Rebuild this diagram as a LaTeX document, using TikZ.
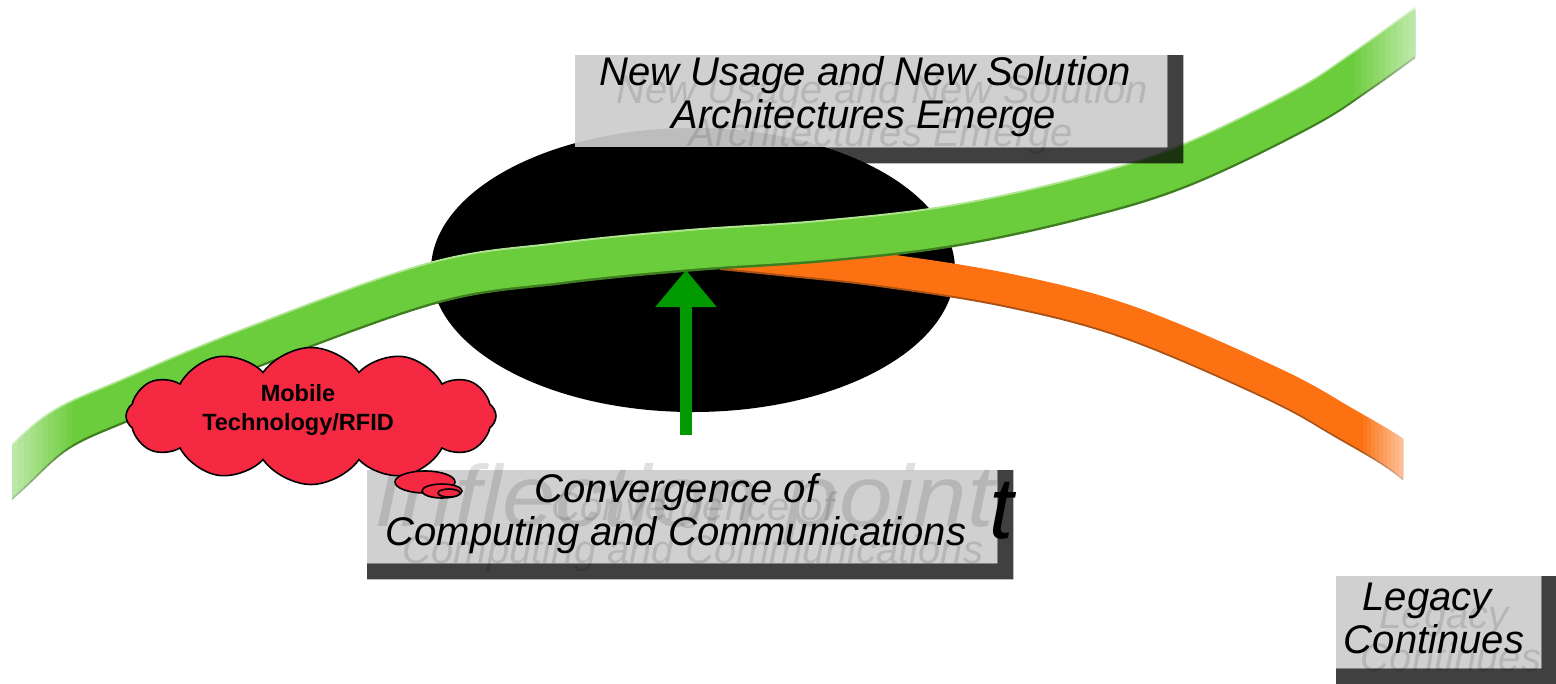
\documentclass[tikz,border=0pt]{standalone}
\usepackage{fontspec}
\setmainfont{Liberation Sans}
\usetikzlibrary{arrows.meta,shapes.symbols}
\definecolor{bandgreen}{RGB}{108,205,60}
\definecolor{bandgreendark}{RGB}{62,125,32}
\definecolor{bandgreenlight}{RGB}{175,228,145}
\definecolor{bandorange}{RGB}{252,113,18}
\definecolor{bandorangedark}{RGB}{170,82,22}
\definecolor{arrowgreen}{RGB}{0,153,0}
\definecolor{cloudred}{RGB}{245,42,66}
\definecolor{boxgray}{RGB}{204,204,204}
\newcommand\drawboxshadow[1]{\fill[shadowfill] (#1.north east) -- ([xshift=16pt]#1.north east) -- ([xshift=16pt,yshift=-16pt]#1.south east) -- ([yshift=-16pt]#1.south west) -- (#1.south west) -- (#1.south east) -- cycle;}
\begin{document}
\begin{tikzpicture}[x=1pt,y=-1pt,
  boxtext/.style={font=\fontsize{40}{44}\selectfont\itshape, anchor=base, inner sep=0pt},
  ghosttext/.style={boxtext, text=black, text opacity=0.12},
  lightbox/.style={fill=boxgray, fill opacity=0.93, draw=none, inner sep=0pt, anchor=north west},
  shadowfill/.style={fill=black, fill opacity=0.75},
  greenband/.style={line width=38pt, draw=bandgreen},
  greenedge/.style={line width=38pt, draw=bandgreendark},
  greenhilite/.style={line width=38pt, draw=bandgreenlight},
  orangeband/.style={line width=32pt, draw=bandorange},
  orangeedge/.style={line width=32pt, draw=bandorangedark},
  bigarrow/.style={line width=12pt, draw=arrowgreen, -{Triangle[width=59pt,length=37pt]}},
  bubble/.style={fill=cloudred, draw=black, line width=1.6pt},
  watermark/.style={font=\fontsize{87}{87}\selectfont\itshape, anchor=base west, inner sep=0pt}
]
\useasboundingbox (0,0) rectangle (1556,683);

% black ellipse
\fill[black] (693,270) ellipse [x radius=262, y radius=142];

% orange band (legacy)
\begin{scope}
  \clip (720,0) rectangle (1403,683);
  \draw[orangeedge, shift={(0,2)}] plot[smooth, tension=0.6] coordinates {(700,250) (780,258) (880,269) (1010,290) (1130,322) (1273,383) (1344,422) (1403,458) (1450,500)};
  \draw[orangeband] plot[smooth, tension=0.6] coordinates {(700,250) (780,258) (880,269) (1010,290) (1130,322) (1273,383) (1344,422) (1403,458) (1450,500)};
\end{scope}
\foreach \i [evaluate=\i as \op using 0.55*\i/10] in {1,...,10}
  \fill[white, opacity=\op] ({1399-(10-\i)*4},390) rectangle ({1403-(10-\i)*4},500);

% green band (new)
\begin{scope}
  \clip (12,0) rectangle (1415,683);
  \draw[greenhilite, shift={(0,-2)}] plot[smooth, tension=0.6] coordinates {(-15,497) (12,472) (60,430) (130,398) (250,348) (432,283) (560,263) (690,250) (820,241) (950,226) (1080,198) (1183,166) (1300,110) (1360,72) (1440,14)};
  \draw[greenedge, shift={(0,2.5)}] plot[smooth, tension=0.6] coordinates {(-15,497) (12,472) (60,430) (130,398) (250,348) (432,283) (560,263) (690,250) (820,241) (950,226) (1080,198) (1183,166) (1300,110) (1360,72) (1440,14)};
  \draw[greenband] plot[smooth, tension=0.6] coordinates {(-15,497) (12,472) (60,430) (130,398) (250,348) (432,283) (560,263) (690,250) (820,241) (950,226) (1080,198) (1183,166) (1300,110) (1360,72) (1440,14)};
\end{scope}
\foreach \i [evaluate=\i as \op using 0.55*(10-\i)/10] in {0,...,9}
  \fill[white, opacity=\op] ({12+\i*6},380) rectangle ({18+\i*6},530);
\foreach \i [evaluate=\i as \op using 0.55*\i/10] in {1,...,10}
  \fill[white, opacity=\op] ({1409-(10-\i)*6},0) rectangle ({1415-(10-\i)*6},140);

% arrow
\coordinate (arrowfoot) at (686,435);
\coordinate (arrowtip) at (686,270);
\draw[bigarrow] (arrowfoot) -- (arrowtip);

% boxes
\node[lightbox, minimum width=592pt, minimum height=92pt] (topbox) at (575,55) {};
\drawboxshadow{topbox}
\node[lightbox, minimum width=630pt, minimum height=93pt] (convbox) at (367,470) {};
\drawboxshadow{convbox}
\node[lightbox, minimum width=205pt, minimum height=92pt] (legacybox) at (1336,576) {};
\drawboxshadow{legacybox}

% watermark
\node[watermark, text=black, text opacity=0.12] (inflection) at (374,526) {\scalebox{1.105}[1]{Inflection point}};
\node[watermark, text=black] (tmark) at (989,538) {t};

% ghost texts
\node[ghosttext] (topAg) at (882,103) {New Usage and New Solution};
\node[ghosttext] (topBg) at (881,146) {Architectures Emerge};
\node[ghosttext] (convAg) at (693,520) {Convergence of};
\node[ghosttext] (convBg) at (693,563) {Computing and Communications};
\node[ghosttext] (legAg) at (1444,628) {Legacy};
\node[ghosttext] (legBg) at (1451,671) {Continues};

% main texts
\node[boxtext] (topA) at (865,85) {New Usage and New Solution};
\node[boxtext] (topB) at (864,128) {Architectures Emerge};
\node[boxtext] (convA) at (676,502) {Convergence of};
\node[boxtext] (convB) at (676,545) {Computing and Communications};
\node[boxtext] (legA) at (1427,610) {Legacy};
\node[boxtext] (legB) at (1434,653) {Continues};

% cloud
\node[cloud, cloud puffs=12, cloud puff arc=110, cloud ignores aspect, minimum width=370pt, minimum height=137pt, bubble, inner sep=0pt] (cloud) at (311,416) {};
\node[font=\fontsize{23.5}{29}\selectfont\bfseries, align=center] (cloudtext) at (298,410) {Mobile\\Technology/RFID};
\filldraw[bubble] (425,482) ellipse [x radius=30, y radius=11];
\filldraw[bubble] (442,491) ellipse [x radius=20, y radius=7];
\filldraw[bubble] (449,493) ellipse [x radius=11, y radius=4];
\end{tikzpicture}
\end{document}
